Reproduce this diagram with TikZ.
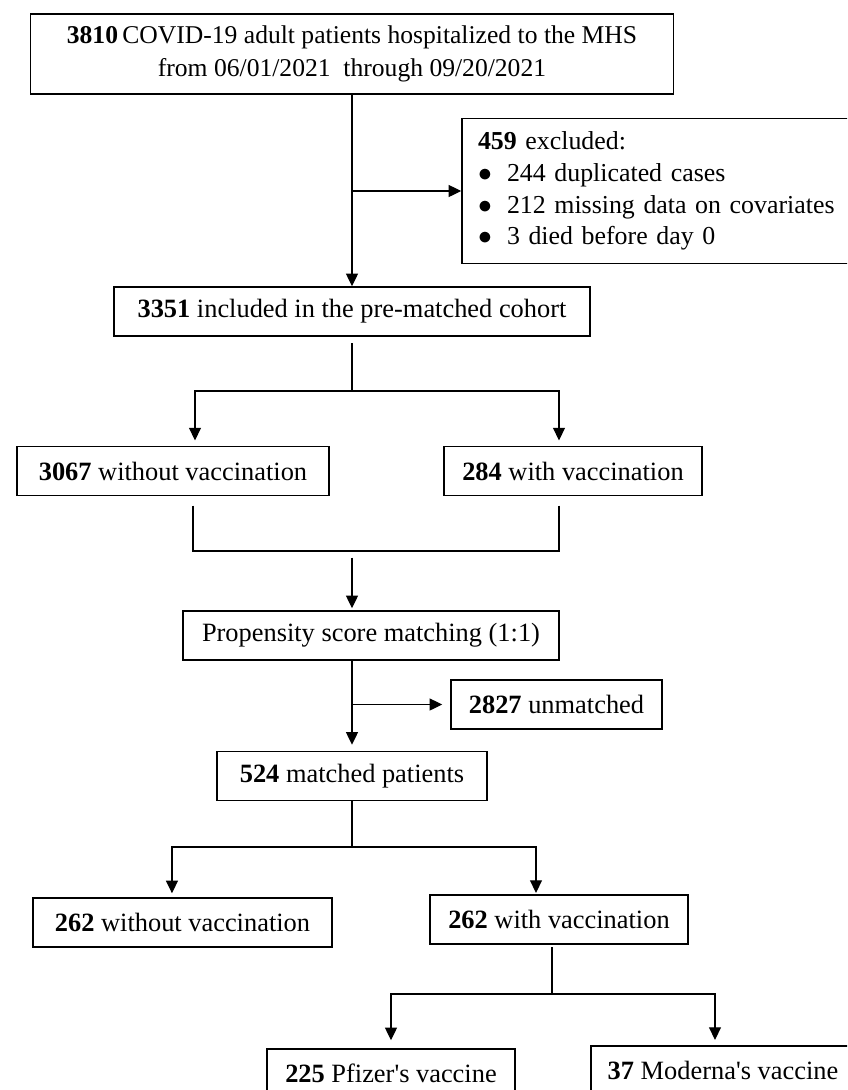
\documentclass[tikz,border=0pt]{standalone}
\usepackage{fontspec}
\setmainfont{Liberation Serif}
\usepackage{tikz}
\usetikzlibrary{calc}
\usetikzlibrary{arrows.meta}
\usetikzlibrary{positioning}

\tikzset{
  box/.style={draw, line width=1.1pt, inner sep=0pt, minimum height=36.75pt, font=\fontsize{19.8}{24.5}\selectfont},
  link/.style={line width=0.9pt},
  arr/.style={link, -{Triangle[length=9.5pt,width=9pt]}}
}
\newcommand{\bul}{\makebox[21.75pt][l]{$\bullet$}}

\begin{document}
\begin{tikzpicture}[x=0.75pt,y=-0.75pt]
\useasboundingbox (0,0) rectangle (847,1090);
\clip (0,0) rectangle (847,1090);
% boxes
\node[box, minimum width=482.25pt, minimum height=60pt, align=center, font=\fontsize{19.2}{24.75}\selectfont] (top) at (352,54)
  {\textbf{3810}\,COVID-19 adult patients hospitalized to the MHS\\from 06/01/2021\ \ through 09/20/2021};
\node[box, text width=274.5pt, inner xsep=12pt, minimum height=108.75pt, align=left, font=\fontsize{19.4}{23.9}\selectfont] (excl) at (661,191)
  {\textbf{459} excluded:\\
   \bul 244 duplicated cases\\
   \bul 212 missing data on covariates\\
   \bul 3 died before day 0};
\node[box, minimum width=357pt] (incl) at (352,311.5) {\textbf{3351} included in the pre-matched cohort};
\node[box, minimum width=234pt] (novac) at (173,471) {\textbf{3067} without vaccination};
\node[box, minimum width=193.5pt] (vac) at (573,471) {\textbf{284} with vaccination};
\node[box, minimum width=282pt] (psm) at (371,635.5) {Propensity score matching (1:1)};
\node[box, minimum width=158.25pt] (unm) at (556.5,704.5) {\textbf{2827} unmatched};
\node[box, minimum width=202.5pt] (match) at (352,776) {\textbf{524} matched patients};
\node[box, minimum width=224.25pt] (mnovac) at (182.5,922.5) {\textbf{262} without vaccination};
\node[box, minimum width=193.5pt] (mvac) at (559,919.5) {\textbf{262} with vaccination};
\node[box, minimum width=186pt] (pfz) at (391,1073.5) {\textbf{225} Pfizer\textquotesingle s vaccine};
\node[box, minimum width=198pt] (mod) at (723,1070.5) {\textbf{37} Moderna\textquotesingle s vaccine};
% junctions
\coordinate (j1) at (352,391);
\coordinate (j2) at (352,551);
\coordinate (j3) at (352,847);
\coordinate (j4) at (552,994);
% connectors
\draw[arr] (top.south) -- (incl.north);
\draw[arr] (top.south |- excl.west) -- (excl.west);
\draw[link, shorten <=5pt] (incl.south -| j1) -- (j1);
\draw[arr, shorten >=4pt] (j1) -| ([xshift=16.5pt]novac.north);
\draw[arr, shorten >=4pt] (j1) -| ([xshift=-10.5pt]vac.north);
\draw[link, shorten <=7pt] ([xshift=15pt]novac.south) |- (j2);
\draw[link, shorten <=7pt] ([xshift=-10.5pt]vac.south) |- (j2);
\draw[arr, shorten <=5pt, shorten >=1.5pt] (j2) -- (psm.north -| j2);
\draw[arr, shorten >=4.5pt] (psm.south -| match.north) -- (match.north);
\draw[arr, shorten >=6pt] (match.north |- unm.west) -- (unm.west);
\draw[link] (match.south) -- (j3);
\draw[arr, shorten >=3pt] (j3) -| ([xshift=-7.9pt]mnovac.north);
\draw[arr, shorten >=1pt] (j3) -| ([xshift=-17.25pt]mvac.north);
\draw[link, shorten <=2pt] ([xshift=-5.25pt]mvac.south) -- (j4);
\draw[arr, shorten >=6pt] (j4) -| (pfz.north);
\draw[arr, shorten >=4pt] (j4) -| ([xshift=-6pt]mod.north);
\end{tikzpicture}
\end{document}
